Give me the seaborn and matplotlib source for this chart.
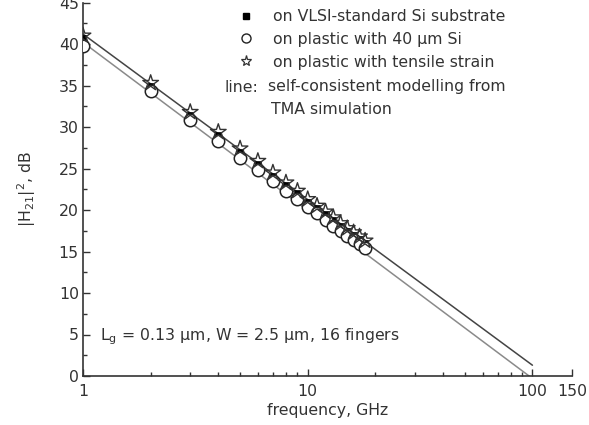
import numpy as np
import pandas as pd
import matplotlib
matplotlib.use("Agg")
import matplotlib.pyplot as plt
import seaborn as sns
from matplotlib.lines import Line2D
from matplotlib.ticker import FixedLocator, MultipleLocator, NullFormatter, LogLocator

# ---- data ----
freq = [1, 2, 3, 4, 5, 6, 7, 8, 9, 10, 11, 12, 13, 14, 15, 16, 17, 18]
vlsi = [40.7, 35.0, 31.5, 29.0, 27.0, 25.5, 24.1, 23.0, 22.0, 21.0, 20.2, 19.5, 18.8, 18.1, 17.5, 17.0, 16.5, 16.0]
plastic = [39.8, 34.3, 30.8, 28.3, 26.3, 24.8, 23.5, 22.3, 21.3, 20.4, 19.6, 18.8, 18.1, 17.5, 16.9, 16.4, 15.9, 15.4]
strain = [41.0, 35.3, 31.8, 29.4, 27.4, 25.9, 24.5, 23.3, 22.3, 21.3, 20.5, 19.8, 19.1, 18.4, 17.8, 17.3, 16.8, 16.3]
model_freq = [1, 100]
model_upper = [41.2, 1.3]
model_lower = [40.2, -0.3]

xtick_vals = [1, 10, 100, 150]
xtick_labels = ["1", "10", "100", "150"]
ytick_vals = [0, 5, 10, 15, 20, 25, 30, 35, 40, 45]

sns.set_theme(style="ticks")
plt.rcParams["font.family"] = ["DejaVu Sans"]
plt.rcParams["mathtext.fontset"] = "dejavusans"

FS = 11.3
TC = "#333333"

W, H = 589, 425
fig = plt.figure(figsize=(W / 100, H / 100), dpi=100)
ax = fig.add_axes([83 / W, 1 - 376 / H, (572 - 83) / W, (376 - 2.5) / H])

dark = "#333333"

# model lines
sns.lineplot(x=model_freq, y=model_upper, ax=ax, color="#444444", lw=1.1)
sns.lineplot(x=model_freq, y=model_lower, ax=ax, color="#8a8a8a", lw=1.1)

# data markers
sns.scatterplot(x=freq, y=vlsi, ax=ax, marker="s", s=22, color="black",
                edgecolor="black", linewidth=0.5, zorder=3)
sns.scatterplot(x=freq, y=plastic, ax=ax, marker="o", s=80, facecolor="white",
                edgecolor="#222222", linewidth=1.1, zorder=4)
sns.scatterplot(x=freq, y=strain, ax=ax, marker="*", s=140, facecolor="none",
                edgecolor="#333333", linewidth=1.0, zorder=5)

ax.set_xscale("log")
ax.set_xlim(1, 150)
ax.set_ylim(0, 45)
ax.xaxis.set_major_locator(FixedLocator(xtick_vals))
ax.set_xticklabels(xtick_labels)
ax.xaxis.set_minor_locator(LogLocator(base=10, subs=np.arange(2, 10)))
ax.xaxis.set_minor_formatter(NullFormatter())
ax.set_yticks(ytick_vals)
ax.yaxis.set_minor_locator(MultipleLocator(2.5))

for s in ["top", "right"]:
    ax.spines[s].set_visible(False)
for s in ["left", "bottom"]:
    ax.spines[s].set_color(dark)
    ax.spines[s].set_linewidth(1.2)

ax.tick_params(which="major", direction="in", length=5, width=1, color=dark,
               labelsize=FS, labelcolor=TC)
ax.tick_params(axis="y", which="major", pad=3)
ax.tick_params(axis="x", which="major", pad=6)
ax.tick_params(which="minor", direction="in", length=3, width=1, color=dark)

ax.set_xlabel("frequency, GHz", fontsize=FS, color=TC, labelpad=3)
ax.set_ylabel("|H$_{21}$|$^2$, dB", fontsize=FS, color=TC, labelpad=15)

ax.text(0.035, 0.105, "L$_{\\rm g}$ = 0.13 µm, W = 2.5 µm, 16 fingers",
        transform=ax.transAxes, fontsize=FS, color=TC, va="center")

handles = [
    Line2D([], [], ls="none", marker="s", ms=5, color="black"),
    Line2D([], [], ls="none", marker="o", ms=6.5, mfc="white", mec="#222222", mew=1),
    Line2D([], [], ls="none", marker="*", ms=8, mfc="none", mec="#333333", mew=0.9),
]
labels = ["on VLSI-standard Si substrate", "on plastic with 40 µm Si",
          "on plastic with tensile strain"]
leg = fig.legend(handles, labels, loc="upper left",
                 bbox_to_anchor=(238 / W, 1 - 9 / H), frameon=False,
                 fontsize=FS, handlelength=1.0, handletextpad=1.25,
                 labelspacing=0.5, borderaxespad=0, borderpad=0)
for t in leg.get_texts():
    t.set_color(TC)

fig.text(224 / W, 1 - 87 / H, "line:", fontsize=FS, color=TC, va="center")
fig.text(268 / W, 1 - 87 / H, "self-consistent modelling from",
         fontsize=FS, color=TC, va="center")
fig.text(271 / W, 1 - 109 / H, "TMA simulation",
         fontsize=FS, color=TC, va="center")

fig.savefig("out.png", dpi=100)
